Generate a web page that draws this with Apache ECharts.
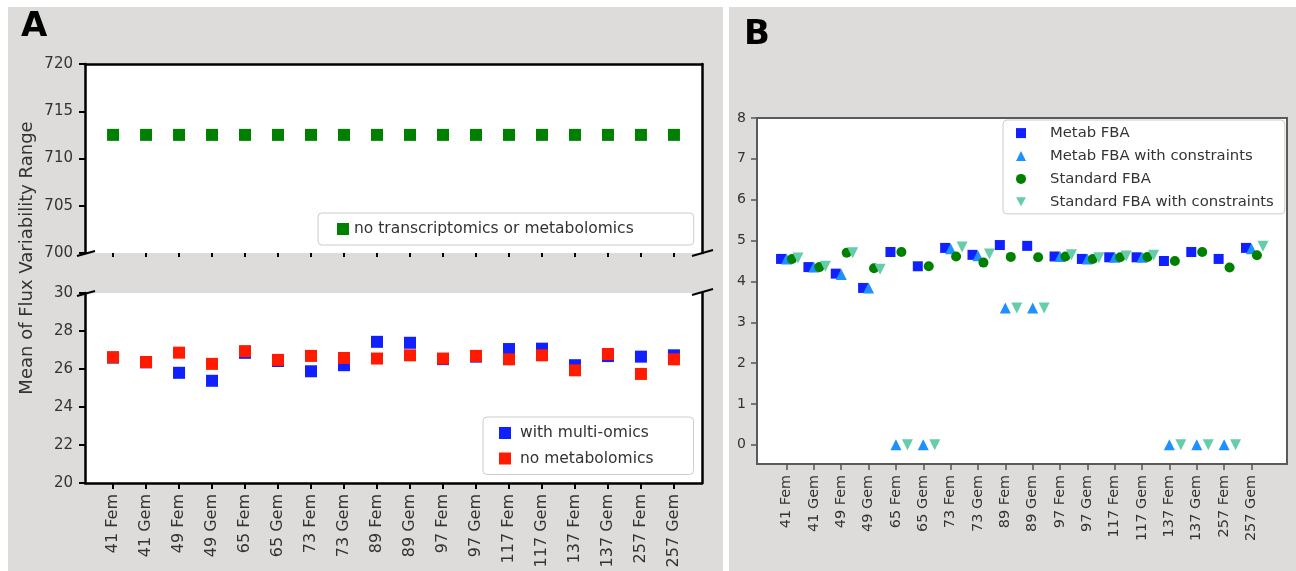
<!DOCTYPE html>
<html>
<head>
<meta charset="utf-8">
<script src="https://cdn.jsdelivr.net/npm/echarts@6/dist/echarts.min.js"></script>
<style>
html, body { margin: 0; padding: 0; background: #fff; }
#chart { width: 1296px; height: 571px; }
</style>
</head>
<body>
<div id="chart"></div>
<script>
// categories shared by both panels
var categories = ['41 Fem', '41 Gem', '49 Fem', '49 Gem', '65 Fem', '65 Gem', '73 Fem', '73 Gem', '89 Fem',
    '89 Gem', '97 Fem', '97 Gem', '117 Fem', '117 Gem', '137 Fem', '137 Gem', '257 Fem', '257 Gem'];

// panel A
var noOmics = [712.5, 712.5, 712.5, 712.5, 712.5, 712.5, 712.5, 712.5, 712.5,
    712.5, 712.5, 712.5, 712.5, 712.5, 712.5, 712.5, 712.5, 712.5];
var multiOmics = [26.6, 26.35, 25.8, 25.38, 26.85, 26.42, 25.88, 26.2, 27.43,
    27.38, 26.52, 26.65, 27.05, 27.07, 26.2, 26.68, 26.65, 26.72];
var noMetabolomics = [26.62, 26.37, 26.86, 26.27, 26.94, 26.48, 26.69, 26.58, 26.55,
    26.72, 26.55, 26.69, 26.51, 26.72, 25.93, 26.79, 25.74, 26.51];
var yTicksTop = [700, 705, 710, 715, 720];
var yTicksBottom = [20, 22, 24, 26, 28, 30];

// panel B
var metabFba = [4.55, 4.35, 4.19, 3.84, 4.72, 4.37, 4.82, 4.65, 4.89,
    4.87, 4.61, 4.55, 4.59, 4.59, 4.50, 4.72, 4.55, 4.82];
var metabFbaCon = [4.55, 4.35, 4.17, 3.84, 0, 0, 4.80, 4.63, 3.35,
    3.35, 4.61, 4.55, 4.59, 4.59, 0, 0, 0, 4.80];
var standardFba = [4.55, 4.35, 4.70, 4.32, 4.72, 4.37, 4.61, 4.46, 4.60,
    4.59, 4.61, 4.55, 4.59, 4.60, 4.50, 4.72, 4.34, 4.64];
var standardFbaCon = [4.57, 4.37, 4.70, 4.30, 0, 0, 4.84, 4.67, 3.35,
    3.35, 4.65, 4.58, 4.62, 4.64, 0, 0, 0, 4.86];
var yTicksB = [0, 1, 2, 3, 4, 5, 6, 7, 8];

var catIdx = categories.map(function (c, i) { return i })

function pts(values, offset) {
    return values.map(function (v, i) { return [i + offset, v] })
}

var FONT = 'DejaVu Sans'
var TXT = '#333'
var TRI_DOWN = 'path://M0,0L10,0L5,9Z'

// layout
var A_LEFT = 85, A_RIGHT = 702
var A_TOP1 = 64, A_BOT1 = 253
var A_TOP2 = 293, A_BOT2 = 483

// spine-only axis (top / right of panel A)
function spine(opt) {
    return Object.assign({
        type: 'value',
        axisLine: { show: true, onZero: false, lineStyle: { color: '#000', width: 2.5 } },
        axisTick: { show: false },
        axisLabel: { show: false },
        splitLine: { show: false }
    }, opt)
}

var chart = echarts.init(document.getElementById('chart'))

var option = {
    backgroundColor: '#dddcda',
    animation: false,
    textStyle: { fontFamily: FONT },
    grid: [
        { left: A_LEFT, top: A_TOP1, width: A_RIGHT - A_LEFT, height: A_BOT1 - A_TOP1,
          show: true, backgroundColor: '#fff', borderWidth: 0 },
        { left: A_LEFT, top: A_TOP2, width: A_RIGHT - A_LEFT, height: A_BOT2 - A_TOP2,
          show: true, backgroundColor: '#fff', borderWidth: 0 },
        { left: 757, top: 118, width: 530, height: 346,
          show: true, backgroundColor: '#fff', borderColor: '#5a5a5a', borderWidth: 2 }
    ],
    xAxis: [
        // A top: ticks only
        { type: 'value', gridIndex: 0, min: -0.85, max: 17.85,
          axisLine: { show: false, onZero: false },
          axisTick: { show: true, customValues: catIdx, length: 4, lineStyle: { color: '#000', width: 2 } },
          axisLabel: { show: false },
          splitLine: { show: false } },
        spine({ gridIndex: 0, position: 'top', min: -0.85, max: 17.85 }),
        // A bottom
        { type: 'value', gridIndex: 1, min: -0.85, max: 17.85,
          axisLine: { show: true, onZero: false, lineStyle: { color: '#000', width: 2.5 } },
          axisTick: { show: true, customValues: catIdx, length: 6, lineStyle: { color: '#000', width: 2 } },
          axisLabel: { customValues: catIdx, rotate: 90, margin: 11, fontSize: 16, color: TXT, fontFamily: FONT,
                       formatter: function (v) { return categories[v] } },
          splitLine: { show: false } },
        // B
        { type: 'value', gridIndex: 2, min: -1.08, max: 18.3,
          axisLine: { show: false, onZero: false },
          axisTick: { show: true, customValues: catIdx, length: 6, lineStyle: { color: '#555', width: 1.5 } },
          axisLabel: { customValues: catIdx, rotate: 90, margin: 11, fontSize: 14.4, color: TXT, fontFamily: FONT,
                       formatter: function (v) { return categories[v] } },
          splitLine: { show: false } }
    ],
    yAxis: [
        { type: 'value', gridIndex: 0, min: 700, max: 720,
          axisLine: { show: true, onZero: false, lineStyle: { color: '#000', width: 2.5 } },
          axisTick: { show: true, customValues: yTicksTop, length: 6, lineStyle: { color: '#000', width: 2 } },
          axisLabel: { customValues: yTicksTop, margin: 12, fontSize: 15, color: TXT, fontFamily: FONT },
          splitLine: { show: false } },
        spine({ gridIndex: 0, position: 'right', min: 700, max: 720 }),
        { type: 'value', gridIndex: 1, min: 20, max: 30,
          axisLine: { show: true, onZero: false, lineStyle: { color: '#000', width: 2.5 } },
          axisTick: { show: true, customValues: yTicksBottom, length: 6, lineStyle: { color: '#000', width: 2 } },
          axisLabel: { customValues: yTicksBottom, margin: 12, fontSize: 15, color: TXT, fontFamily: FONT },
          splitLine: { show: false } },
        spine({ gridIndex: 1, position: 'right', min: 20, max: 30 }),
        { type: 'value', gridIndex: 2, min: -0.47, max: 8,
          axisLine: { show: false, onZero: false },
          axisTick: { show: true, customValues: yTicksB, length: 6, lineStyle: { color: '#555', width: 1.5 } },
          axisLabel: { customValues: yTicksB, margin: 11, fontSize: 14, color: TXT, fontFamily: FONT },
          splitLine: { show: false } }
    ],
    legend: [
        { data: ['no transcriptomics or metabolomics'], left: 318, top: 213, orient: 'vertical',
          selectedMode: false, itemWidth: 12, itemHeight: 12,
          padding: [8, 60, 8, 19], backgroundColor: '#fff', borderColor: '#ccc', borderWidth: 1, borderRadius: 4,
          textStyle: { fontSize: 15.5, color: TXT, fontFamily: FONT, lineHeight: 15.5 } },
        { data: ['with multi-omics', 'no metabolomics'], left: 483, top: 417, orient: 'vertical',
          selectedMode: false, itemWidth: 12, itemHeight: 12, itemGap: 9.5,
          padding: [8, 40, 8, 16], backgroundColor: '#fff', borderColor: '#ccc', borderWidth: 1, borderRadius: 4,
          textStyle: { fontSize: 15.5, color: TXT, fontFamily: FONT, lineHeight: 15.5, padding: [0, 0, 0, 4] } },
        { data: ['Metab FBA', 'Metab FBA with constraints', 'Standard FBA', 'Standard FBA with constraints'],
          left: 1003, top: 120, orient: 'vertical',
          selectedMode: false, itemWidth: 10, itemHeight: 10, itemGap: 7.9,
          padding: [5.6, 11, 4.6, 13], backgroundColor: '#fff', borderColor: '#ccc', borderWidth: 1, borderRadius: 4,
          textStyle: { fontSize: 14.8, color: TXT, fontFamily: FONT, lineHeight: 14.8, padding: [0, 0, 0, 19] } }
    ],
    series: [
        { name: 'no transcriptomics or metabolomics', type: 'scatter', xAxisIndex: 0, yAxisIndex: 0,
          symbol: 'rect', symbolSize: 12, itemStyle: { color: '#008000', opacity: 1 }, data: pts(noOmics, 0) },
        { name: 'with multi-omics', type: 'scatter', xAxisIndex: 2, yAxisIndex: 2,
          symbol: 'rect', symbolSize: 12, itemStyle: { color: '#1020ff', opacity: 1 }, data: pts(multiOmics, 0) },
        { name: 'no metabolomics', type: 'scatter', xAxisIndex: 2, yAxisIndex: 2,
          symbol: 'rect', symbolSize: 12, itemStyle: { color: '#ff1a00', opacity: 1 }, data: pts(noMetabolomics, 0) },
        { name: 'Metab FBA', type: 'scatter', xAxisIndex: 3, yAxisIndex: 4,
          symbol: 'rect', symbolSize: 10, itemStyle: { color: '#1020ff', opacity: 1 }, data: pts(metabFba, -0.2) },
        { name: 'Metab FBA with constraints', type: 'scatter', xAxisIndex: 3, yAxisIndex: 4,
          symbol: 'triangle', symbolSize: 11, itemStyle: { color: '#1e90ff', opacity: 1 }, data: pts(metabFbaCon, 0) },
        { name: 'Standard FBA', type: 'scatter', xAxisIndex: 3, yAxisIndex: 4,
          symbol: 'circle', symbolSize: 10, itemStyle: { color: '#008000', opacity: 1 }, data: pts(standardFba, 0.2) },
        { name: 'Standard FBA with constraints', type: 'scatter', xAxisIndex: 3, yAxisIndex: 4,
          symbol: TRI_DOWN, symbolSize: 11, itemStyle: { color: '#66cdaa', opacity: 1 }, data: pts(standardFbaCon, 0.42) }
    ],
    graphic: [
        // white page margins / gap between panels
        { type: 'rect', shape: { x: 0, y: 0, width: 1296, height: 7 }, style: { fill: '#fff' }, silent: true },
        { type: 'rect', shape: { x: 0, y: 0, width: 8, height: 571 }, style: { fill: '#fff' }, silent: true },
        { type: 'rect', shape: { x: 723, y: 0, width: 6, height: 571 }, style: { fill: '#fff' }, silent: true },
        // panel letters
        { type: 'text', x: 21, y: 27, style: { text: 'A', font: 'bold 34px ' + FONT, fill: '#000', textVerticalAlign: 'middle' } },
        { type: 'text', x: 744, y: 35, style: { text: 'B', font: 'bold 34px ' + FONT, fill: '#000', textVerticalAlign: 'middle' } },
        // shared y title for panel A
        { type: 'text', x: 27, y: 258, rotation: Math.PI / 2,
          style: { text: 'Mean of Flux Variability Range', font: '18px ' + FONT, fill: TXT,
                   textAlign: 'center', textVerticalAlign: 'middle' } },
        // broken-axis marks
        { type: 'line', shape: { x1: A_LEFT - 8, y1: A_BOT1 + 3, x2: A_LEFT + 10, y2: A_BOT1 - 2 }, style: { stroke: '#000', lineWidth: 2 }, z: 100 },
        { type: 'line', shape: { x1: A_RIGHT - 10, y1: A_BOT1 + 3, x2: A_RIGHT + 11, y2: A_BOT1 - 3 }, style: { stroke: '#000', lineWidth: 2 }, z: 100 },
        { type: 'line', shape: { x1: A_LEFT - 8, y1: A_TOP2 + 3, x2: A_LEFT + 10, y2: A_TOP2 - 2 }, style: { stroke: '#000', lineWidth: 2 }, z: 100 },
        { type: 'line', shape: { x1: A_RIGHT - 10, y1: A_TOP2 + 2, x2: A_RIGHT + 11, y2: A_TOP2 - 4 }, style: { stroke: '#000', lineWidth: 2 }, z: 100 }
    ]
}

chart.setOption(option)
</script>
</body>
</html>
